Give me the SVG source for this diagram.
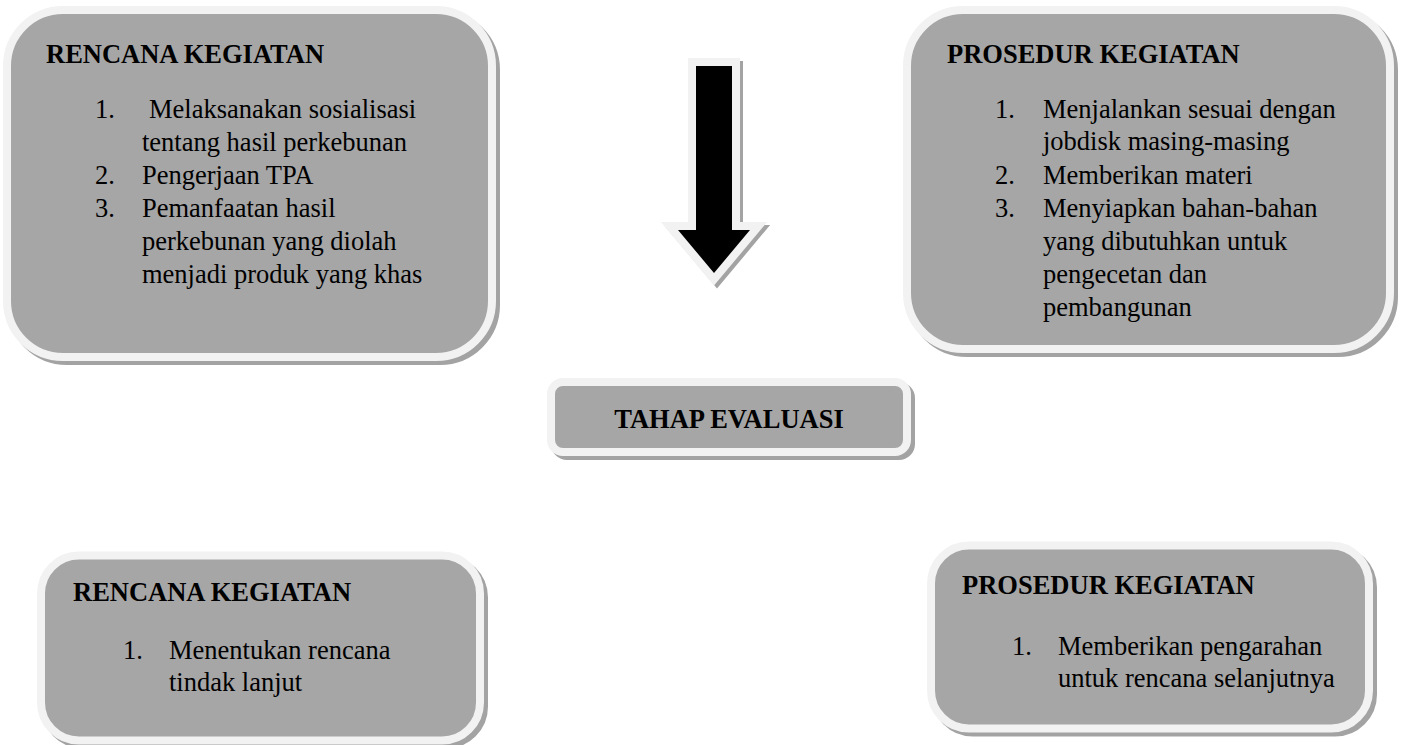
<svg xmlns="http://www.w3.org/2000/svg" width="1402" height="745" viewBox="0 0 1402 745">
<style>
.bg{fill:#ffffff}
.shadow{fill:#a3a3a3;stroke:#a3a3a3;stroke-width:8}
.box{fill:#a6a6a6;stroke:#f2f2f2;stroke-width:8}
.t{font-family:"Liberation Serif","Times New Roman",serif;font-size:26.5px;fill:#000000}
.h{font-weight:bold}
.ashadow{fill:#a3a3a3;stroke:#a3a3a3;stroke-width:16;stroke-linejoin:miter;stroke-miterlimit:10}
.aborder{fill:#000000;stroke:#f2f2f2;stroke-width:16;stroke-linejoin:miter;stroke-miterlimit:10;paint-order:stroke}
</style>
<rect class="bg" x="0" y="0" width="1402" height="745"/>

<g id="node-rencana-1">
<rect class="shadow" x="11" y="14" width="485" height="347" rx="56"/>
<rect class="box" x="7" y="10" width="485" height="347" rx="56"/>
<text class="t h" x="46" y="63">RENCANA KEGIATAN</text>
<text class="t" x="95" y="118">1.</text>
<text class="t" x="149" y="118">Melaksanakan sosialisasi</text>
<text class="t" x="142" y="151">tentang hasil perkebunan</text>
<text class="t" x="95" y="184">2.</text>
<text class="t" x="142" y="184">Pengerjaan TPA</text>
<text class="t" x="95" y="217">3.</text>
<text class="t" x="142" y="217">Pemanfaatan hasil</text>
<text class="t" x="142" y="250">perkebunan yang diolah</text>
<text class="t" x="142" y="283">menjadi produk yang khas</text>
</g>

<g id="node-prosedur-1">
<rect class="shadow" x="911" y="14" width="483" height="339" rx="56"/>
<rect class="box" x="907" y="10" width="483" height="339" rx="56"/>
<text class="t h" x="947" y="63">PROSEDUR KEGIATAN</text>
<text class="t" x="995" y="118">1.</text>
<text class="t" x="1043" y="118">Menjalankan sesuai dengan</text>
<text class="t" x="1043" y="150">jobdisk masing-masing</text>
<text class="t" x="995" y="184">2.</text>
<text class="t" x="1043" y="184">Memberikan materi</text>
<text class="t" x="995" y="217">3.</text>
<text class="t" x="1043" y="217">Menyiapkan bahan-bahan</text>
<text class="t" x="1043" y="250">yang dibutuhkan untuk</text>
<text class="t" x="1043" y="283">pengecetan dan</text>
<text class="t" x="1043" y="316">pembangunan</text>
</g>

<g id="connectors">
<path class="ashadow" d="M699,69 H735 V233 H753 L717,276 L681,233 H699 Z"/>
<path class="aborder" d="M696,66 H732 V230 H750 L714,273 L678,230 H696 Z"/>
</g>

<g id="node-evaluasi">
<rect class="shadow" x="555" y="386" width="356" height="70" rx="12"/>
<rect class="box" x="551" y="382" width="356" height="70" rx="12"/>
<text class="t h" x="729" y="428" text-anchor="middle">TAHAP EVALUASI</text>
</g>

<g id="node-rencana-2">
<rect class="shadow" x="45" y="559.5" width="439" height="185" rx="38"/>
<rect class="box" x="41" y="555.5" width="439" height="185" rx="38"/>
<text class="t h" x="73" y="601">RENCANA KEGIATAN</text>
<text class="t" x="123" y="659">1.</text>
<text class="t" x="169" y="659">Menentukan rencana</text>
<text class="t" x="169" y="691">tindak lanjut</text>
</g>

<g id="node-prosedur-2">
<rect class="shadow" x="935" y="549.5" width="438" height="183" rx="38"/>
<rect class="box" x="931" y="545.5" width="438" height="183" rx="38"/>
<text class="t h" x="962" y="594">PROSEDUR KEGIATAN</text>
<text class="t" x="1012" y="655">1.</text>
<text class="t" x="1058" y="655">Memberikan pengarahan</text>
<text class="t" x="1058" y="687">untuk rencana selanjutnya</text>
</g>
</svg>
